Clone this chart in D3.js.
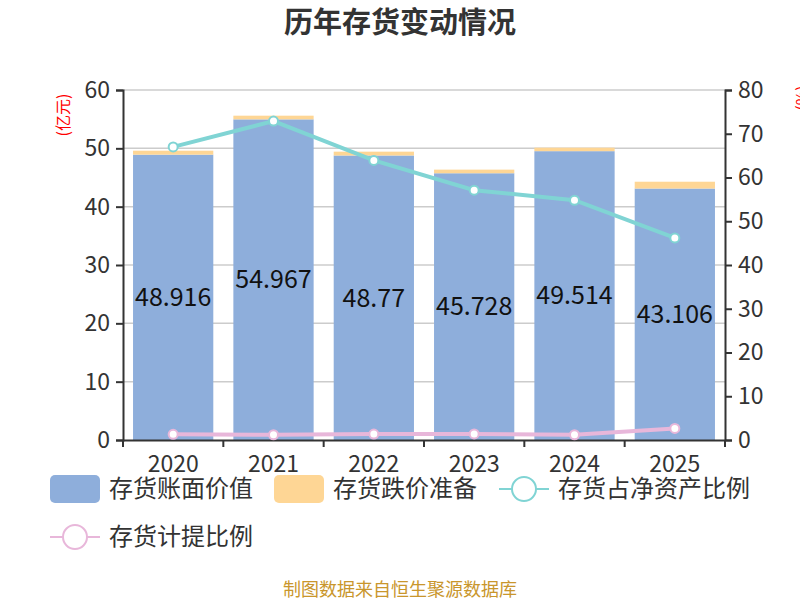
<!DOCTYPE html>
<html>
<head>
<meta charset="utf-8">
<script src="https://cdn.jsdelivr.net/npm/d3@7"></script>
<style>
  body { margin: 0; background: #fff; }
  svg { font-family: "Noto Sans CJK SC", "Noto Sans", sans-serif; }
</style>
</head>
<body>
<div id="chart"></div>
<script>
/* ---------------------- Data ---------------------- */
var years = ["2020", "2021", "2022", "2023", "2024", "2025"];
var bookValue = [48.916, 54.967, 48.77, 45.728, 49.514, 43.106];   // 存货账面价值 (亿元)
var impairment = [0.68, 0.63, 0.66, 0.62, 0.6, 1.17];               // 存货跌价准备 (亿元)
var netAssetRatio = [67.0, 72.9, 63.9, 57.1, 54.8, 46.2];           // 存货占净资产比例 (%)
var provisionRatio = [1.3, 1.2, 1.35, 1.4, 1.2, 2.65];              // 存货计提比例 (%)
var leftTicks = [0, 10, 20, 30, 40, 50, 60];
var rightTicks = [0, 10, 20, 30, 40, 50, 60, 70, 80];

var colors = {book: "#8eaedb", reserve: "#fed695", ratio: "#80d4d4", prov: "#e8b7da", axis: "#333", grid: "#cccccc"};

/* ---------------------- Layout ---------------------- */
var W = 800, H = 600;
var m = {top: 90, right: 75, bottom: 160, left: 123};
var cw = W - m.left - m.right, ch = H - m.top - m.bottom;

var svg = d3.select("#chart").append("svg")
    .attr("width", W).attr("height", H);

var g = svg.append("g").attr("transform", `translate(${m.left},${m.top})`);

var x = d3.scaleBand().domain(years).range([0, cw]).paddingInner(0.2).paddingOuter(0.1);
var xLine = d => x(d) + x.bandwidth() / 2;
var yL = d3.scaleLinear().domain([0, 60]).range([ch, 0]);
var yR = d3.scaleLinear().domain([0, 80]).range([ch, 0]);

// Title
svg.append("text")
    .attr("x", W / 2).attr("y", 33)
    .attr("text-anchor", "middle")
    .attr("font-size", 29).attr("font-weight", "bold").attr("fill", "#333")
    .text("历年存货变动情况");

// Grid lines
g.append("g").selectAll("line")
    .data(leftTicks.filter(d => d > 0))
    .enter().append("line")
    .attr("x1", 0).attr("x2", cw)
    .attr("y1", d => yL(d)).attr("y2", d => yL(d))
    .attr("stroke", colors.grid).attr("stroke-width", 1.5);

// Bars (stacked)
var bars = g.append("g");
bars.selectAll("rect.book")
    .data(years)
    .enter().append("rect")
    .attr("class", "book")
    .attr("x", d => x(d)).attr("width", x.bandwidth())
    .attr("y", (d, i) => yL(bookValue[i]))
    .attr("height", (d, i) => yL(0) - yL(bookValue[i]))
    .attr("fill", colors.book);

bars.selectAll("rect.reserve")
    .data(years)
    .enter().append("rect")
    .attr("class", "reserve")
    .attr("x", d => x(d)).attr("width", x.bandwidth())
    .attr("y", (d, i) => yL(bookValue[i] + impairment[i]))
    .attr("height", (d, i) => yL(bookValue[i]) - yL(bookValue[i] + impairment[i]))
    .attr("fill", colors.reserve);

// Bar labels
bars.selectAll("text")
    .data(years)
    .enter().append("text")
    .attr("x", d => xLine(d))
    .attr("y", (d, i) => yL(bookValue[i] / 2))
    .attr("dy", "0.35em")
    .attr("text-anchor", "middle")
    .attr("font-size", 25).attr("fill", "#111")
    .text((d, i) => bookValue[i]);

// Axes
var axisL = g.append("g")
    .call(d3.axisLeft(yL).tickValues(leftTicks).tickSize(7).tickPadding(6));
var axisR = g.append("g")
    .attr("transform", `translate(${cw},0)`)
    .call(d3.axisRight(yR).tickValues(rightTicks).tickSize(7).tickPadding(6));
var axisB = g.append("g")
    .attr("transform", `translate(0,${ch})`)
    .call(d3.axisBottom(x).tickSize(0).tickPadding(16));

// Boundary ticks on x axis
g.append("g").selectAll("line")
    .data(d3.range(years.length + 1))
    .enter().append("line")
    .attr("x1", i => i * x.step()).attr("x2", i => i * x.step())
    .attr("y1", ch).attr("y2", ch + 7)
    .attr("stroke", colors.axis).attr("stroke-width", 2);

[axisL, axisR, axisB].forEach(a => {
    a.selectAll("path, line").attr("stroke", colors.axis).attr("stroke-width", 2);
    a.selectAll("text").attr("font-size", 23).attr("fill", "#333")
        .attr("font-family", "'Noto Sans CJK SC', sans-serif");
});

// Axis unit labels
svg.append("text")
    .attr("transform", `translate(69,115) rotate(-90)`)
    .attr("text-anchor", "middle")
    .attr("font-size", 16).attr("fill", "#ff0000")
    .text("(亿元)");
svg.append("text")
    .attr("transform", `translate(808,98) rotate(-90)`)
    .attr("text-anchor", "middle")
    .attr("font-size", 16).attr("fill", "#ff0000")
    .text("(%)");

// Lines
function drawLine(values, color) {
    var line = d3.line().x((d, i) => xLine(years[i])).y(d => yR(d));
    g.append("path")
        .datum(values)
        .attr("d", line)
        .attr("fill", "none")
        .attr("stroke", color).attr("stroke-width", 4);
    g.append("g").selectAll("circle")
        .data(values)
        .enter().append("circle")
        .attr("cx", (d, i) => xLine(years[i]))
        .attr("cy", d => yR(d))
        .attr("r", 4.5)
        .attr("fill", "#fff")
        .attr("stroke", color).attr("stroke-width", 2);
}
drawLine(netAssetRatio, colors.ratio);
drawLine(provisionRatio, colors.prov);

// Legend
var legendItems = [
    {name: "存货账面价值", type: "rect", color: colors.book, x: 50, y: 489},
    {name: "存货跌价准备", type: "rect", color: colors.reserve, x: 274, y: 489},
    {name: "存货占净资产比例", type: "line", color: colors.ratio, x: 499, y: 489},
    {name: "存货计提比例", type: "line", color: colors.prov, x: 50, y: 537}
];
var legend = svg.append("g").selectAll("g")
    .data(legendItems)
    .enter().append("g")
    .attr("transform", d => `translate(${d.x},${d.y})`);

legend.filter(d => d.type === "rect").append("rect")
    .attr("x", 0).attr("y", -14).attr("width", 50).attr("height", 28)
    .attr("rx", 5).attr("fill", d => d.color);
legend.filter(d => d.type === "line").append("line")
    .attr("x1", 0).attr("x2", 50).attr("y1", 0).attr("y2", 0)
    .attr("stroke", d => d.color).attr("stroke-width", 2);
legend.filter(d => d.type === "line").append("circle")
    .attr("cx", 25).attr("cy", 0).attr("r", 12)
    .attr("fill", "#fff").attr("stroke", d => d.color).attr("stroke-width", 2);
legend.append("text")
    .attr("x", 59).attr("y", 0).attr("dy", "0.35em")
    .attr("font-size", 24).attr("fill", "#333")
    .text(d => d.name);

// Footer
svg.append("text")
    .attr("x", W / 2).attr("y", 596)
    .attr("text-anchor", "middle")
    .attr("font-size", 18).attr("fill", "#c9962c")
    .text("制图数据来自恒生聚源数据库");
</script>
</body>
</html>
